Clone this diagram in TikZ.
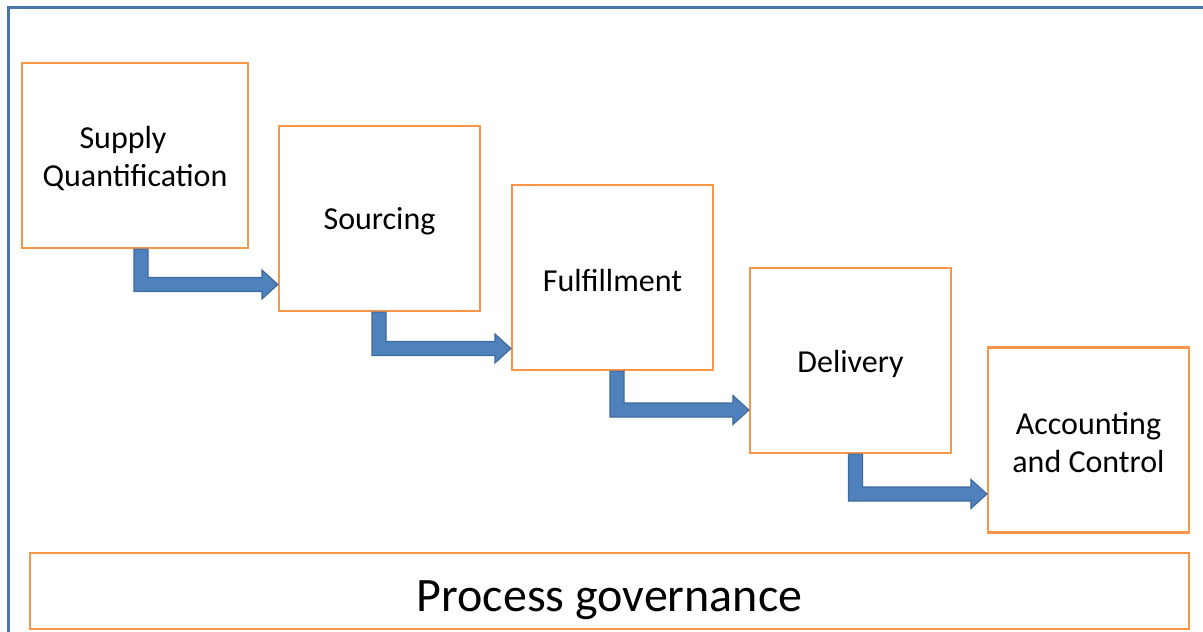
\documentclass[tikz,border=0pt]{standalone}
\usepackage{fontspec}
\setmainfont{Carlito}
\usetikzlibrary{calc}
\definecolor{boxorange}{HTML}{F79646}
\definecolor{arrowblue}{HTML}{4F81BD}
\definecolor{arrowedge}{HTML}{3F6B9E}
\definecolor{frameblue}{HTML}{4A76A8}
\tikzset{
  stepbox/.style={draw=boxorange, line width=2.2pt, fill=white, rectangle, inner sep=0pt},
  steptext/.style={align=center, inner sep=0pt, font=\fontsize{32}{38}\selectfont},
  flowarrow/.style={fill=arrowblue, draw=arrowedge, line width=1.2pt, line join=miter},
}
% #1 from node, #2 to node, #3 stem centre x, #4 bar centre y
\newcommand\bentarrow[4]{%
  \coordinate (sx) at (#3,0);
  \coordinate (st) at (#1.south -| sx);
  \coordinate (tp) at (#2.west |- 0,#4);
  \coordinate (hb) at ($(tp)+(-16,0)$);
  \draw[flowarrow] ($(st)+(-7,0)$) -- ($(st)+(7,0)$) -- ($(st |- tp)+(7,-7)$) -- ($(hb)+(0,-7)$)
    -- ($(hb)+(0,-14.5)$) -- (tp) -- ($(hb)+(0,14.5)$) -- ($(hb)+(0,7)$)
    -- ($(st |- tp)+(-7,7)$) -- cycle;
}
\begin{document}
\begin{tikzpicture}[x=1pt,y=-1pt]
\useasboundingbox (0,0) rectangle (1203,632);
\clip (0,0) rectangle (1203,632);
\fill[white] (0,0) rectangle (1203,632);
\draw[frameblue, line width=3pt] (1215,7.5) -- (8.5,7.5) -- (8.5,645);
\node[stepbox, minimum width=226pt, minimum height=185pt] (b1) at (135,155.5) {};
\node[stepbox, minimum width=201pt, minimum height=185pt] (b2) at (379.5,218.5) {};
\node[stepbox, minimum width=201pt, minimum height=185pt] (b3) at (612.5,277.5) {};
\node[stepbox, minimum width=201pt, minimum height=185pt] (b4) at (850.5,360.5) {};
\node[stepbox, minimum width=201pt, minimum height=185pt] (b5) at (1088.5,440) {};
\node[stepbox, minimum width=1159pt, minimum height=76pt] (gov) at (609.5,591) {};
\node[steptext] (t1) at ([yshift=-3pt]b1.center) {Supply\hspace*{24pt}\\Quantification};
\node[steptext] (t2) at ([yshift=-3pt]b2.center) {Sourcing};
\node[steptext] (t3) at ([yshift=-3pt]b3.center) {Fulfillment};
\node[steptext] (t4) at ([yshift=-3pt]b4.center) {Delivery};
\node[steptext] (t5) at ([yshift=-3pt]b5.center) {Accounting\\and Control};
\node[steptext, anchor=base, font=\fontsize{48}{58}\selectfont] (tg) at (gov.center |- 0,611) {Process governance};
\bentarrow{b1}{b2}{141}{284.5}
\bentarrow{b2}{b3}{379}{348.5}
\bentarrow{b3}{b4}{617}{410}
\bentarrow{b4}{b5}{855.5}{494}
\end{tikzpicture}
\end{document}
